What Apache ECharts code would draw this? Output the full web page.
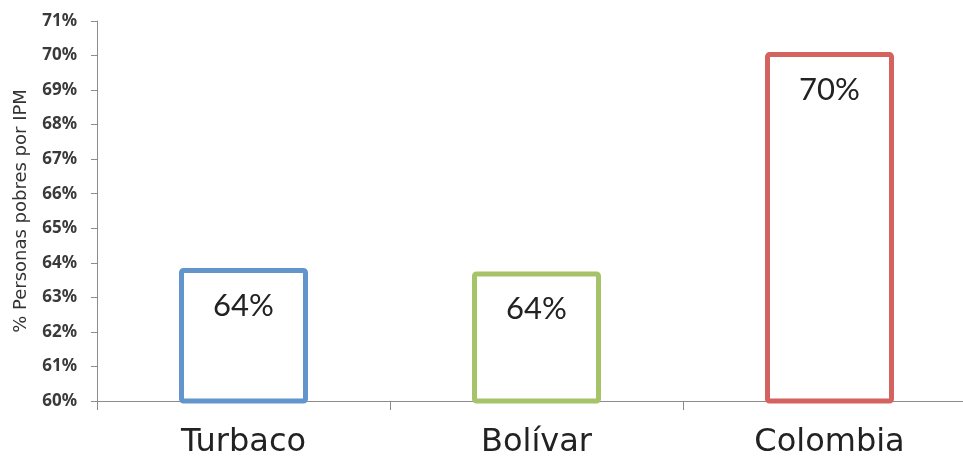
<!DOCTYPE html>
<html>
<head>
<meta charset="utf-8">
<script src="https://cdn.jsdelivr.net/npm/echarts@6/dist/echarts.min.js"></script>
<style>html,body{margin:0;padding:0;background:#fff}#c{width:963px;height:457px}</style>
</head>
<body>
<div id="c"></div>
<script>
const categories = ['Turbaco', 'Bolívar', 'Colombia'];
const values = [63.85, 63.75, 70.1];
const barColors = ['#6195cc', '#a6c36a', '#d4625e'];
const yAxisName = '% Personas pobres por IPM';

const chart = echarts.init(document.getElementById('c'));
chart.setOption({
  animation: false,
  grid: { left: 97, right: -13, top: 21, bottom: 56, outerBoundsMode: 'none', containLabel: false },
  xAxis: {
    type: 'category',
    data: categories,
    axisLine: { lineStyle: { color: '#8c8c8c', width: 1 } },
    axisTick: { show: true, length: 9, lineStyle: { color: '#8c8c8c' } },
    axisLabel: { fontSize: 32, color: '#222', margin: 26, fontFamily: 'DejaVu Sans' }
  },
  yAxis: {
    type: 'value',
    min: 60, max: 71, interval: 1,
    name: yAxisName,
    nameLocation: 'middle',
    nameGap: 67,
    nameRotate: 90,
    nameTextStyle: { fontSize: 18, color: '#333', fontFamily: 'DejaVu Sans' },
    axisLine: { show: true, lineStyle: { color: '#8c8c8c', width: 1 } },
    axisTick: { show: true, length: 6, lineStyle: { color: '#8c8c8c' } },
    splitLine: { show: false },
    axisLabel: { fontSize: 17, fontWeight: 'bold', color: '#3a3a3a', margin: 20, fontFamily: 'Noto Sans', formatter: v => v + '%' }
  },
  series: [{
    type: 'bar',
    barWidth: 129,
    data: values.map((v, i) => ({
      value: v,
      itemStyle: { color: '#fff', borderColor: barColors[i], borderWidth: 5, borderRadius: 2 }
    })),
    label: {
      show: true,
      position: 'insideTop',
      distance: 22,
      fontSize: 31,
      color: '#222',
      fontFamily: 'Lato',
      formatter: p => Math.round(p.value) + '%'
    }
  }]
});
</script>
</body>
</html>
